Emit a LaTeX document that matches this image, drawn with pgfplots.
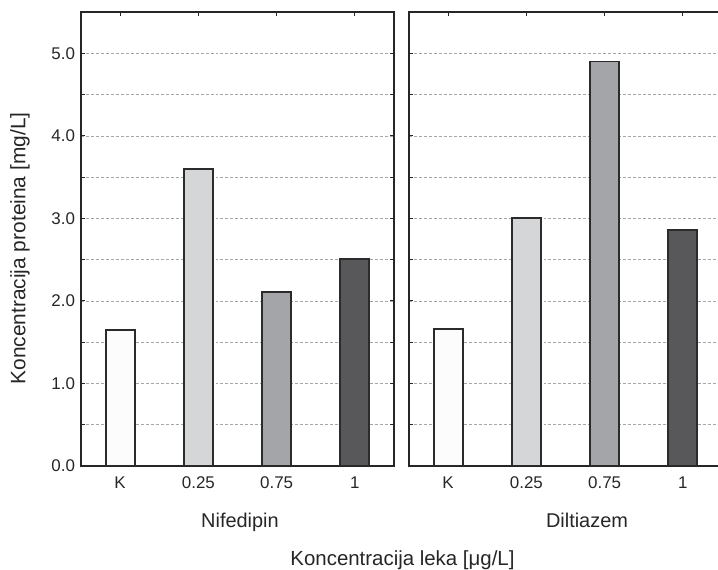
\documentclass[border=0pt]{standalone}
\usepackage{fontspec}
\setmainfont{Liberation Sans}
\usepackage{pgfplots}
\pgfplotsset{compat=1.18}
\definecolor{cK}{HTML}{FCFCFC}
\definecolor{cA}{HTML}{D5D6D8}
\definecolor{cB}{HTML}{A4A5A9}
\definecolor{cC}{HTML}{58585B}
\definecolor{edge}{HTML}{2B2B2B}
\pgfplotsset{
  panel/.style={
    scale only axis, width=313bp, height=454bp,
    anchor=south west,
    xmin=-0.5, xmax=3.5, ymin=0, ymax=5.5,
    xtick={0,1,2,3}, xticklabels={K,0.25,0.75,1},
    ytick={0,1,2,3,4,5}, minor ytick={0.5,1.5,2.5,3.5,4.5},
    ymajorgrids, yminorgrids,
    major grid style={densely dashed, gray!70, line width=0.6bp},
    minor grid style={densely dashed, gray!70, line width=0.6bp},
    tick align=inside, major tick length=4bp, minor tick length=4bp,
    xtick pos=right, xticklabel pos=left,
    tick style={line width=0.9bp, color=black!85},
    axis line style={line width=1.4bp, color=black!85},
    tick label style={font=\fontsize{17}{19}\selectfont, text=black!85},
    xticklabel style={yshift=-7bp},
    yticklabel style={xshift=-2.5bp,
      /pgf/number format/.cd, fixed, fixed zerofill, precision=1, assume math mode=true},
  },
  bar/.style={ybar, bar width=29bp, bar shift=0pt, draw=edge, fill=#1, line width=1.8bp},
}
\begin{document}
\begin{tikzpicture}[x=1bp, y=1bp]
\useasboundingbox (0,0) rectangle (718,570);
% Nifedipin
\begin{axis}[panel, at={(81bp,104bp)}]
\addplot[bar=cK] coordinates {(0,1.65)};
\addplot[bar=cA] coordinates {(1,3.60)};
\addplot[bar=cB] coordinates {(2,2.11)};
\addplot[bar=cC] coordinates {(3,2.51)};
\end{axis}
% Diltiazem
\begin{axis}[panel, at={(409bp,104bp)}, yticklabels={}]
\addplot[bar=cK] coordinates {(0,1.66)};
\addplot[bar=cA] coordinates {(1,3.00)};
\addplot[bar=cB] coordinates {(2,4.90)};
\addplot[bar=cC] coordinates {(3,2.86)};
\end{axis}
\node[anchor=base, text=black!85, font=\fontsize{20}{22}\selectfont] at (240,42) {Nifedipin};
\node[anchor=base, text=black!85, font=\fontsize{20}{22}\selectfont] at (587,42) {Diltiazem};
\node[anchor=base, text=black!85, font=\fontsize{20.5}{23}\selectfont] at (402.5,4) {Koncentracija leka [μg/L]};
\node[rotate=90, anchor=center, text=black!85, font=\fontsize{21}{23}\selectfont] at (20,321.5) {Koncentracija proteina [mg/L]};
\end{tikzpicture}
\end{document}
